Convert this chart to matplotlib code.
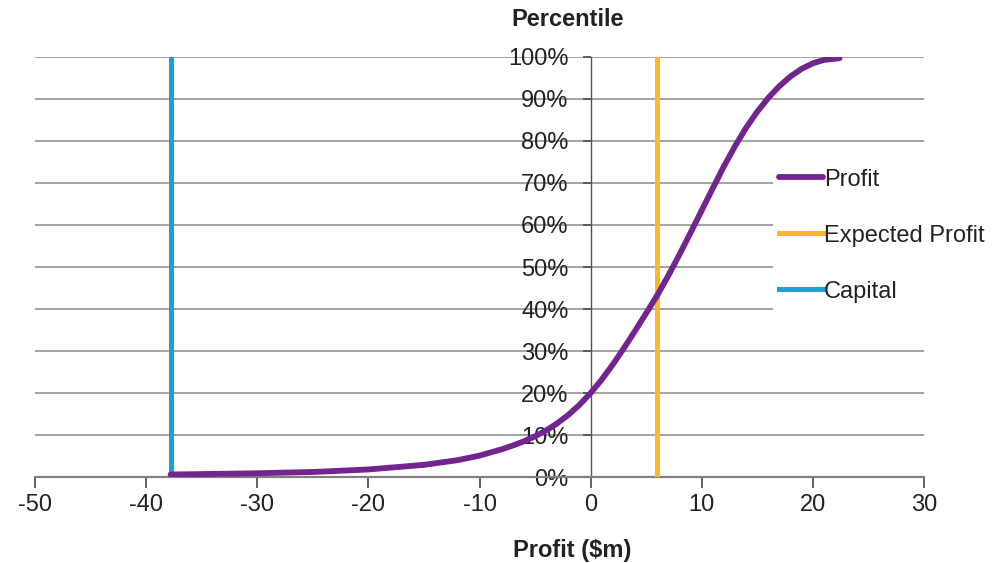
import matplotlib
matplotlib.use("Agg")
import matplotlib.pyplot as plt
from matplotlib.patches import Rectangle
from matplotlib.ticker import FuncFormatter

plt.rcParams['font.family'] = ['Liberation Sans', 'DejaVu Sans']
plt.rcParams['axes.unicode_minus'] = False

# cumulative profit distribution ($m vs percentile)
profit = [-37.8, -35, -30, -25, -20, -15, -12, -10, -8, -7, -6, -5, -4, -3,
          -2, -1, 0, 1, 2, 3, 4, 5, 6, 7, 8, 9, 10, 11, 12, 13, 14, 15, 16,
          17, 18, 19, 20, 21, 22.4]
percentile = [0.006, 0.007, 0.009, 0.012, 0.018, 0.029, 0.040, 0.051, 0.066,
              0.075, 0.085, 0.097, 0.111, 0.128, 0.148, 0.172, 0.200, 0.232,
              0.268, 0.307, 0.348, 0.390, 0.433, 0.480, 0.530, 0.582, 0.635,
              0.688, 0.740, 0.788, 0.832, 0.870, 0.903, 0.931, 0.954, 0.972,
              0.985, 0.993, 0.997]
expected_profit = 6.0
capital = -37.8

x_ticks = [-50, -40, -30, -20, -10, 0, 10, 20, 30]
y_ticks = [0, 0.1, 0.2, 0.3, 0.4, 0.5, 0.6, 0.7, 0.8, 0.9, 1.0]

PURPLE = "#72258f"
ORANGE = "#fdb727"
BLUE = "#17a3d6"
TEXT = "#222222"
FS = 17

fig = plt.figure(figsize=(9.94, 5.63), dpi=100)
ax = fig.add_axes([0.0352, 0.1527, 0.8944, 0.7461])

ax.plot(profit, percentile, color=PURPLE, lw=4.2, solid_capstyle="round",
        solid_joinstyle="round", label="Profit", zorder=4)
ax.plot([expected_profit, expected_profit], [0, 1], color=ORANGE, lw=3.6,
        label="Expected Profit", zorder=3)
ax.plot([capital, capital], [0, 1], color=BLUE, lw=3.6, label="Capital",
        zorder=3)

ax.set_xlim(-50, 30)
ax.set_ylim(0, 1)
ax.set_xticks(x_ticks)
ax.set_yticks(y_ticks)
ax.yaxis.set_major_formatter(FuncFormatter(lambda v, _: f"{v:.0%}"))

ax.grid(axis="y", color="#a3a3a3", lw=1.4)
ax.set_axisbelow(True)

for side in ("top", "right"):
    ax.spines[side].set_visible(False)
ax.spines["left"].set_position(("data", 0))
ax.spines["left"].set_color("#555555")
ax.spines["left"].set_linewidth(1.0)
ax.spines["bottom"].set_color("#808080")
ax.spines["bottom"].set_linewidth(1.6)

ax.tick_params(axis="x", direction="out", length=8, width=1.3,
               color="#555555", labelsize=FS, labelcolor=TEXT, pad=4)
ax.tick_params(axis="y", direction="out", length=6, width=1.3,
               color="#555555", labelsize=FS, labelcolor=TEXT, pad=10)

fig.text(0.571, 0.966, "Percentile", ha="center", va="center",
         fontsize=FS, fontweight="bold", color=TEXT)
fig.text(0.576, 0.022, "Profit ($m)", ha="center", va="center",
         fontsize=FS, fontweight="bold", color=TEXT)

# white legend area sitting over the gridlines
ax.add_patch(Rectangle((0.7777, 0.428), 0.2223, 0.309,
                       transform=fig.transFigure, facecolor="white",
                       edgecolor="none", clip_on=False, zorder=2))

leg = ax.legend(loc="upper left", bbox_to_anchor=(0.7787, 0.7087),
                bbox_transform=fig.transFigure, fontsize=FS,
                handlelength=1.86, handletextpad=0.05, labelspacing=1.44,
                borderaxespad=0, borderpad=0.2, frameon=False)
for txt in leg.get_texts():
    txt.set_color(TEXT)
leg.set_zorder(5)

fig.savefig("out.png", dpi=100)
